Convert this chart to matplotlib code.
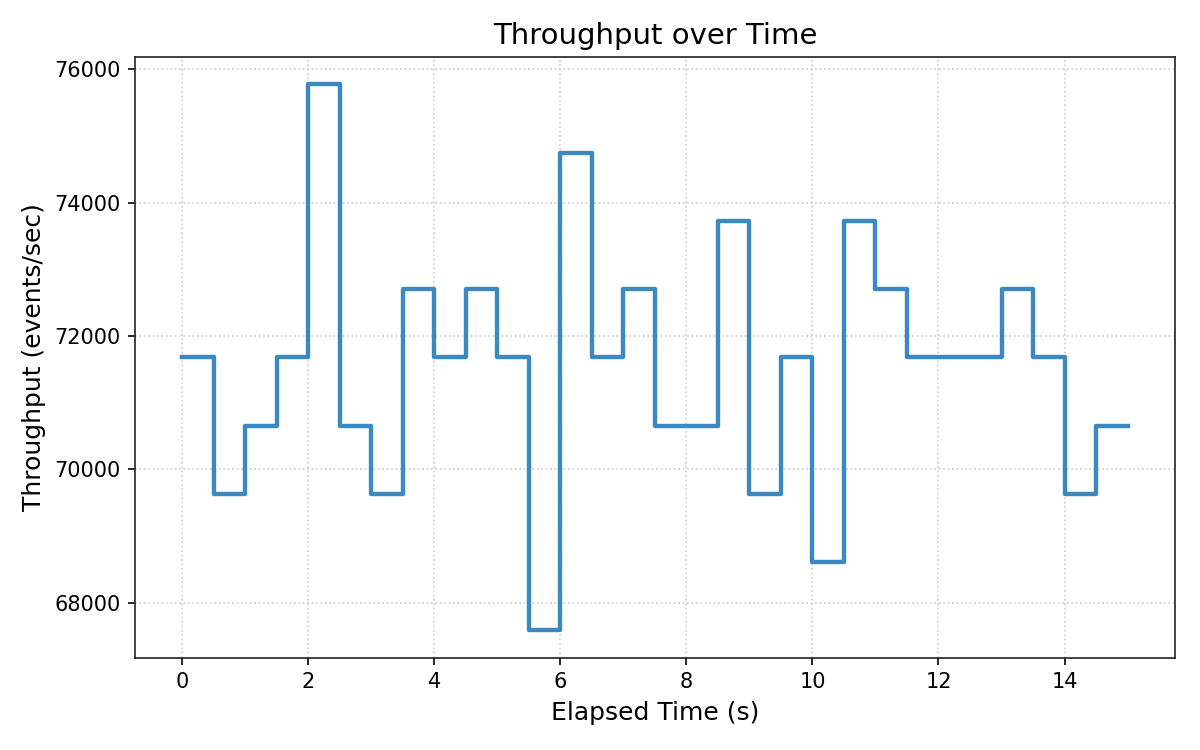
import matplotlib
matplotlib.use("Agg")
import matplotlib.pyplot as plt

# elapsed time in seconds, sampled every 0.5 s
elapsed = [0.0, 0.5, 1.0, 1.5, 2.0, 2.5, 3.0, 3.5, 4.0, 4.5, 5.0, 5.5, 6.0, 6.5, 7.0, 7.5,
           8.0, 8.5, 9.0, 9.5, 10.0, 10.5, 11.0, 11.5, 12.0, 12.5, 13.0, 13.5, 14.0, 14.5, 15.0]
throughput = [71680, 69632, 70656, 71680, 75776, 70656, 69632, 72704, 71680, 72704, 71680,
              67584, 74752, 71680, 72704, 70656, 70656, 73728, 69632, 71680, 68608, 73728,
              72704, 71680, 71680, 71680, 72704, 71680, 69632, 70656, 70656]

fig, ax = plt.subplots(figsize=(8, 5), dpi=150)
ax.step(elapsed, throughput, where='post', color='#3182bd', alpha=0.95, linewidth=2.1)
ax.set_title('Throughput over Time', fontsize=14)
ax.set_xlabel('Elapsed Time (s)', fontsize=12)
ax.set_ylabel('Throughput (events/sec)', fontsize=12)
ax.tick_params(labelsize=10)
for s in ax.spines.values():
    s.set_color('#222222')
ax.grid(True, linestyle=':', color='#cccccc', linewidth=0.8)
fig.subplots_adjust(left=0.1125, right=0.979, top=0.924, bottom=0.123)
plt.savefig('out.png')
